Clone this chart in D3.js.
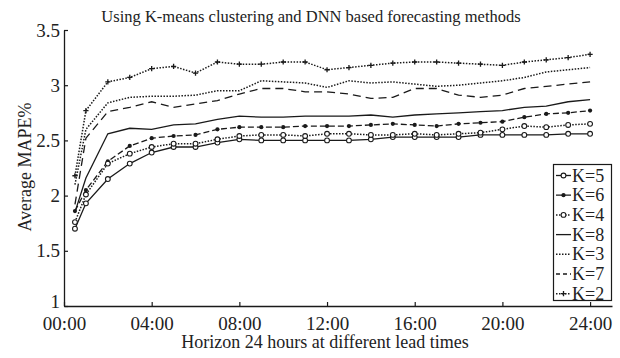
<!DOCTYPE html>
<html><head><meta charset="utf-8">
<script src="https://cdn.jsdelivr.net/npm/d3@7"></script>
<style>body{margin:0;background:#fff}svg{display:block}text{font-family:"Liberation Serif","Times New Roman",serif;fill:#222}</style>
</head><body>
<script>
const hours = [0.5,1,2,3,4,5,6,7,8,9,10,11,12,13,14,15,16,17,18,19,20,21,22,23,24];
const xTicks = [0,4,8,12,16,20,24];
const xTickLabels = ["00:00","04:00","08:00","12:00","16:00","20:00","24:00"];
const yTicks = [1,1.5,2,2.5,3,3.5];
const yTickLabels = ["1","1.5","2","2.5","3","3.5"];
const legendOrder = ["K=5","K=6","K=4","K=8","K=3","K=7","K=2"];
const k5 = [1.70,1.93,2.15,2.29,2.39,2.44,2.44,2.48,2.51,2.50,2.50,2.50,2.50,2.50,2.51,2.53,2.53,2.53,2.53,2.55,2.55,2.55,2.55,2.56,2.56];
const k6 = [1.86,2.05,2.31,2.45,2.52,2.54,2.55,2.60,2.62,2.62,2.62,2.63,2.63,2.63,2.64,2.65,2.64,2.63,2.65,2.66,2.67,2.71,2.74,2.75,2.77];
const k4 = [1.76,2.01,2.29,2.38,2.44,2.47,2.47,2.51,2.54,2.55,2.55,2.54,2.56,2.56,2.55,2.55,2.56,2.55,2.56,2.57,2.60,2.63,2.62,2.64,2.65];
const k8 = [1.85,2.16,2.56,2.61,2.60,2.64,2.65,2.69,2.72,2.71,2.71,2.72,2.72,2.72,2.73,2.71,2.73,2.74,2.75,2.76,2.77,2.80,2.81,2.85,2.87];
const k3 = [2.10,2.60,2.84,2.89,2.90,2.90,2.91,2.95,2.95,3.04,3.03,3.02,2.98,3.04,3.02,3.03,3.01,2.99,3.00,3.02,3.04,3.07,3.12,3.14,3.16];
const k7 = [1.92,2.52,2.76,2.80,2.85,2.80,2.83,2.86,2.92,2.97,2.97,2.94,2.94,2.92,2.88,2.89,2.97,2.97,2.91,2.89,2.91,2.97,2.99,3.01,3.03];
const k2 = [2.18,2.77,3.03,3.07,3.15,3.17,3.11,3.21,3.19,3.19,3.21,3.21,3.14,3.16,3.18,3.20,3.21,3.21,3.20,3.19,3.18,3.21,3.23,3.25,3.28];

const series = [
  {name:"K=5", values:k5, dash:null, marker:"circle"},
  {name:"K=6", values:k6, dash:"6,3", marker:"filled"},
  {name:"K=4", values:k4, dash:"1.5,1.5", marker:"circle"},
  {name:"K=8", values:k8, dash:null, marker:null},
  {name:"K=3", values:k3, dash:"1.5,1.5", marker:null},
  {name:"K=7", values:k7, dash:"8,5", marker:null},
  {name:"K=2", values:k2, dash:"1.5,1.5", marker:"plus"}
];

const W=620,H=358;
const svg=d3.select("body").append("svg").attr("width",W).attr("height",H);
const x=d3.scaleLinear().domain([0,25]).range([64,612]);
const y=d3.scaleLinear().domain([1,3.5]).range([306,30]);
const ink="#1a1a1a";

svg.append("text").attr("x",311).attr("y",22).attr("text-anchor","middle").style("font-size","16.5px")
  .text("Using K-means clustering and DNN based forecasting methods");

// axes
const xAxis=d3.axisBottom(x).tickValues(xTicks).tickSizeInner(-4).tickSizeOuter(0).tickPadding(8)
  .tickFormat((d,i)=>xTickLabels[i]);
const gx=svg.append("g").attr("transform","translate(0,306)").call(xAxis);
const yAxis=d3.axisLeft(y).tickValues(yTicks).tickSizeInner(-4).tickSizeOuter(0).tickPadding(6)
  .tickFormat((d,i)=>yTickLabels[i]);
const gy=svg.append("g").attr("transform","translate(64,0)").call(yAxis);
[gx,gy].forEach(g=>{
  g.select(".domain").attr("stroke",ink).attr("stroke-width",1.3);
  g.selectAll(".tick line").attr("stroke",ink).attr("stroke-width",1.2);
  g.selectAll(".tick text").style("font-size","19px").attr("fill","#222").style("font-family",'"Liberation Serif",serif');
});
gy.selectAll(".tick text").attr("x",-4).attr("dy",(d)=>d===1?"0.1em":"0.32em");
gx.selectAll(".tick text").attr("dy","0.75em").attr("y",9.5);

svg.append("text").attr("x",325).attr("y",348).attr("text-anchor","middle").style("font-size","18px")
  .text("Horizon 24 hours at different lead times");
svg.append("text").attr("transform","translate(31,167) rotate(-90)").attr("text-anchor","middle").style("font-size","18px")
  .text("Average MAPE%");

const line=d3.line().x((d,i)=>x(hours[i])).y(d=>y(d));
function drawMarker(g,type,cx,cy){
  if(type==="circle"){
    g.append("circle").attr("cx",cx).attr("cy",cy).attr("r",2.4).attr("fill","#fff").attr("stroke",ink).attr("stroke-width",1.1);
  } else if(type==="filled"){
    g.append("circle").attr("cx",cx).attr("cy",cy).attr("r",2.1).attr("fill",ink);
  } else if(type==="plus"){
    g.append("path").attr("d",`M${cx-2.6},${cy}H${cx+2.6}M${cx},${cy-2.6}V${cy+2.6}`).attr("stroke",ink).attr("stroke-width",1.3);
  }
}
series.forEach(s=>{
  const g=svg.append("g");
  g.append("path").datum(s.values).attr("d",line).attr("fill","none").attr("stroke",ink)
    .attr("stroke-width",s.dash==="1.5,1.5"?1.5:1.3).attr("stroke-dasharray",s.dash);
  if(s.marker) s.values.forEach((v,i)=>drawMarker(g,s.marker,x(hours[i]),y(v)));
});

// legend
const lg=svg.append("g");
lg.append("rect").attr("x",553.5).attr("y",164.5).attr("width",58).attr("height",136).attr("fill","#fff").attr("stroke",ink).attr("stroke-width",1.2);
legendOrder.forEach((name,i)=>{
  const s=series.find(t=>t.name===name);
  const cy=175.5+i*19.7;
  lg.append("line").attr("x1",556).attr("x2",571).attr("y1",cy).attr("y2",cy).attr("stroke",ink)
    .attr("stroke-width",s.dash==="1.5,1.5"?1.5:1.3).attr("stroke-dasharray",s.dash==="8,5"?"4,3":s.dash);
  if(s.marker) drawMarker(lg,s.marker,563.5,cy);
  lg.append("text").attr("x",572).attr("y",cy+6).style("font-size","18px").text(name);
});
</script>
</body></html>
